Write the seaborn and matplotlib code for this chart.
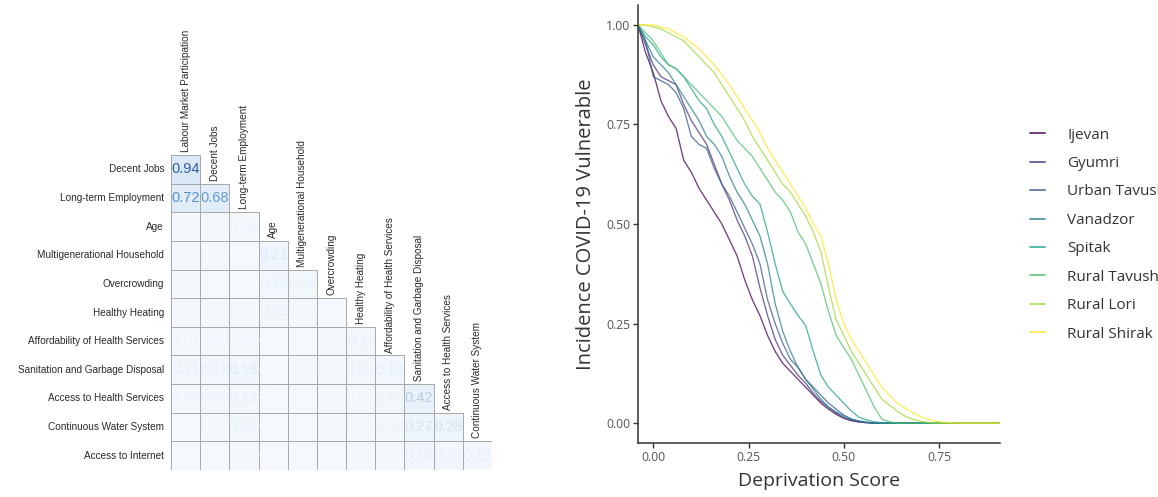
import numpy as np
import pandas as pd
import matplotlib
matplotlib.use("Agg")
import matplotlib.pyplot as plt
import seaborn as sns
from matplotlib.colors import LinearSegmentedColormap, to_rgba

# ---------------- correlation triangle ----------------
row_vars = [
    "Decent Jobs", "Long-term Employment", "Age", "Multigenerational Household",
    "Overcrowding", "Healthy Heating", "Affordability of Health Services",
    "Sanitation and Garbage Disposal", "Access to Health Services",
    "Continuous Water System", "Access to Internet",
]
col_vars = [
    "Labour Market Participation", "Decent Jobs", "Long-term Employment", "Age",
    "Multigenerational Household", "Overcrowding", "Healthy Heating",
    "Affordability of Health Services", "Sanitation and Garbage Disposal",
    "Access to Health Services", "Continuous Water System",
]
corr_rows = [
    [0.94],
    [0.72, 0.68],
    [0.05, 0.04, 0.08],
    [0.06, 0.05, 0.03, 0.21],
    [0.04, 0.03, 0.02, 0.13, 0.09],
    [0.05, 0.04, 0.06, 0.11, 0.08, 0.03],
    [0.07, 0.06, 0.05, 0.02, 0.03, 0.04, 0.11],
    [0.11, 0.13, 0.18, 0.02, 0.04, 0.06, 0.09, 0.14],
    [0.08, 0.09, 0.12, 0.02, 0.03, 0.05, 0.07, 0.10, 0.42],
    [0.03, 0.05, 0.09, 0.02, 0.01, 0.04, 0.05, 0.08, 0.27, 0.28],
    [0.02, 0.03, 0.04, 0.01, 0.02, 0.03, 0.04, 0.06, 0.15, 0.13, 0.12],
]

# ---------------- vulnerability curves ----------------
regions = ["Ijevan", "Gyumri", "Urban Tavush", "Vanadzor", "Spitak",
           "Rural Tavush", "Rural Lori", "Rural Shirak"]
score = [-0.04, -0.02, 0.00, 0.02, 0.04, 0.06, 0.08, 0.10, 0.12, 0.14, 0.16,
         0.18, 0.20, 0.22, 0.24, 0.26, 0.28, 0.30, 0.32, 0.34, 0.36, 0.38,
         0.40, 0.42, 0.44, 0.46, 0.48, 0.50, 0.52, 0.54, 0.56, 0.58, 0.60,
         0.62, 0.64, 0.66, 0.68, 0.70, 0.72, 0.74, 0.76, 0.80, 0.85, 0.91]
ijevan = [1.00, 0.93, 0.88, 0.81, 0.77, 0.74, 0.66, 0.63, 0.59, 0.56, 0.53,
          0.50, 0.46, 0.42, 0.36, 0.31, 0.27, 0.22, 0.18, 0.15, 0.13, 0.11,
          0.09, 0.07, 0.05, 0.035, 0.022, 0.012, 0.006, 0.003, 0.001, 0, 0,
          0, 0, 0, 0, 0, 0, 0, 0, 0, 0, 0]
gyumri = [1.00, 0.95, 0.90, 0.87, 0.86, 0.85, 0.80, 0.76, 0.73, 0.70, 0.65,
          0.60, 0.56, 0.51, 0.47, 0.42, 0.34, 0.27, 0.21, 0.17, 0.145, 0.12,
          0.10, 0.075, 0.055, 0.04, 0.025, 0.014, 0.007, 0.003, 0.001, 0, 0,
          0, 0, 0, 0, 0, 0, 0, 0, 0, 0, 0]
urban_tavush = [1.00, 0.96, 0.87, 0.86, 0.85, 0.83, 0.79, 0.72, 0.70, 0.69,
                0.64, 0.60, 0.57, 0.53, 0.49, 0.45, 0.40, 0.31, 0.25, 0.20,
                0.16, 0.14, 0.11, 0.09, 0.07, 0.05, 0.035, 0.02, 0.01, 0.005,
                0.002, 0, 0, 0, 0, 0, 0, 0, 0, 0, 0, 0, 0, 0]
vanadzor = [1.00, 0.96, 0.92, 0.90, 0.88, 0.85, 0.82, 0.79, 0.76, 0.72, 0.70,
            0.67, 0.62, 0.58, 0.55, 0.51, 0.47, 0.40, 0.30, 0.23, 0.18, 0.14,
            0.11, 0.085, 0.06, 0.04, 0.028, 0.018, 0.01, 0.005, 0.002, 0, 0,
            0, 0, 0, 0, 0, 0, 0, 0, 0, 0, 0]
spitak = [1.00, 0.97, 0.95, 0.92, 0.90, 0.89, 0.87, 0.84, 0.81, 0.79, 0.75,
          0.72, 0.68, 0.64, 0.60, 0.57, 0.55, 0.48, 0.40, 0.33, 0.30, 0.27,
          0.245, 0.18, 0.12, 0.09, 0.07, 0.05, 0.03, 0.015, 0.008, 0.003,
          0.001, 0, 0, 0, 0, 0, 0, 0, 0, 0, 0, 0]
rural_tavush = [1.00, 0.98, 0.96, 0.93, 0.90, 0.89, 0.87, 0.85, 0.83, 0.81,
                0.79, 0.77, 0.74, 0.71, 0.69, 0.67, 0.64, 0.61, 0.58, 0.56,
                0.53, 0.48, 0.45, 0.40, 0.35, 0.28, 0.22, 0.19, 0.16, 0.12,
                0.08, 0.04, 0.01, 0.003, 0, 0, 0, 0, 0, 0, 0, 0, 0, 0]
rural_lori = [1.00, 1.00, 0.995, 0.99, 0.98, 0.97, 0.96, 0.94, 0.92, 0.90,
              0.88, 0.85, 0.82, 0.79, 0.76, 0.72, 0.69, 0.66, 0.63, 0.60,
              0.58, 0.55, 0.52, 0.48, 0.43, 0.34, 0.26, 0.22, 0.18, 0.15,
              0.12, 0.09, 0.06, 0.045, 0.03, 0.018, 0.01, 0.005, 0.002, 0, 0,
              0, 0, 0]
rural_shirak = [1.00, 1.00, 1.00, 0.995, 0.99, 0.98, 0.97, 0.955, 0.94, 0.92,
                0.90, 0.875, 0.85, 0.82, 0.79, 0.76, 0.73, 0.69, 0.66, 0.63,
                0.60, 0.57, 0.54, 0.50, 0.47, 0.40, 0.31, 0.25, 0.21, 0.18,
                0.15, 0.12, 0.09, 0.07, 0.05, 0.038, 0.027, 0.017, 0.01,
                0.005, 0.002, 0, 0, 0]
curves = [ijevan, gyumri, urban_tavush, vanadzor, spitak,
          rural_tavush, rural_lori, rural_shirak]

region_colors = ["#440154", "#46337E", "#365C8D", "#277F8E",
                 "#1FA187", "#4AC16D", "#9FDA3A", "#FDE725"]

sns.set_theme(style="white")
plt.rcParams["font.family"] = ["Open Sans", "DejaVu Sans"]
small_font = ["Liberation Sans", "DejaVu Sans"]

W, H = 1158, 497
fig = plt.figure(figsize=(W / 100, H / 100), dpi=100)

# ---- left panel: lower-triangle correlation matrix ----
mat = np.full((len(row_vars), len(col_vars)), np.nan)
for i, row in enumerate(corr_rows):
    mat[i, :len(row)] = row
hidden = np.isnan(mat)
corr_df = pd.DataFrame(mat, index=row_vars, columns=col_vars)

fill_cmap = LinearSegmentedColormap.from_list("fill", ["#f5f9fd", "#d9e7f7"])
text_cmap = LinearSegmentedColormap.from_list(
    "txt", [(0.0, "#f8fbff"), (0.3, "#d3e1f3"), (0.5, "#a3c3eb"),
            (0.75, "#4a8bd4"), (1.0, "#2a4f96")])

ax1 = fig.add_axes([171 / W, 1 - 470 / H, 321 / W, 315 / H])
sns.heatmap(corr_df, mask=hidden, cmap=fill_cmap, vmin=0, vmax=1,
            cbar=False, linewidths=0.6, linecolor="#a9a9a9",
            xticklabels=False, yticklabels=True, ax=ax1)
# outline only the cells of the lower triangle
mesh = ax1.collections[0]
edge = np.array([(0, 0, 0, 0) if h else to_rgba("#a9a9a9")
                 for h in hidden.ravel()])
mesh.set_edgecolor(edge)
mesh.set_linewidth(0.6)

ax1.tick_params(axis="y", length=0, pad=5)
for lab in ax1.get_yticklabels():
    lab.set_rotation(0)
    lab.set_fontsize(7.2)
    lab.set_family(small_font)
    lab.set_color("#2a2a2a")
ax1.set_xlabel("")
ax1.set_ylabel("")

for i, row in enumerate(corr_rows):
    for j, v in enumerate(row):
        ax1.text(j + 0.5, i + 0.5, f"{v:.2f}", ha="center", va="center",
                 fontsize=10.5, color=text_cmap(abs(v)), family=small_font)

for j, name in enumerate(col_vars):
    ax1.text(j + 0.5, j - 0.1, name, rotation=90, ha="center", va="bottom",
             fontsize=7.2, color="#2a2a2a", clip_on=False, family=small_font)

# ---- right panel: vulnerability curves ----
long_df = pd.DataFrame({
    "score": np.tile(score, len(regions)),
    "share": np.concatenate(curves),
    "region": np.repeat(regions, len(score)),
})

ax2 = fig.add_axes([638 / W, 1 - 443 / H, 362 / W, 438 / H])
sns.lineplot(data=long_df, x="score", y="share", hue="region",
             hue_order=regions, palette=region_colors, linewidth=0.95,
             alpha=0.75, errorbar=None, ax=ax2)
ax2.set_xlim(-0.04, 0.91)
ax2.set_ylim(-0.05, 1.05)
ax2.set_xticks([0, 0.25, 0.5, 0.75])
ax2.set_xticklabels(["0.00", "0.25", "0.50", "0.75"])
ax2.set_yticks([0, 0.25, 0.5, 0.75, 1.0])
ax2.set_yticklabels(["0.00", "0.25", "0.50", "0.75", "1.00"])
sns.despine(ax=ax2)
for side in ("left", "bottom"):
    ax2.spines[side].set_color("#333333")
    ax2.spines[side].set_linewidth(1.1)
ax2.tick_params(bottom=True, left=True, length=3.5, width=1, color="#333333",
                labelcolor="#555555", labelsize=8.8, pad=2)
ax2.set_xlabel("Deprivation Score", fontsize=14, color="#333333", labelpad=6)
ax2.set_ylabel("Incidence COVID-19 Vulnerable", fontsize=14.5,
               color="#333333", labelpad=7)

sns.move_legend(ax2, "center left", bbox_to_anchor=(1030 / W, 0.528),
                bbox_transform=fig.transFigure, frameon=False, title=None,
                fontsize=11, handlelength=1.0, handletextpad=1.45,
                labelspacing=0.88, borderpad=0, borderaxespad=0)
for t in ax2.get_legend().get_texts():
    t.set_color("#333333")
for h in ax2.get_legend().legend_handles:
    h.set_alpha(0.75)
    h.set_linewidth(1.4)

fig.savefig("out.png", dpi=100)
